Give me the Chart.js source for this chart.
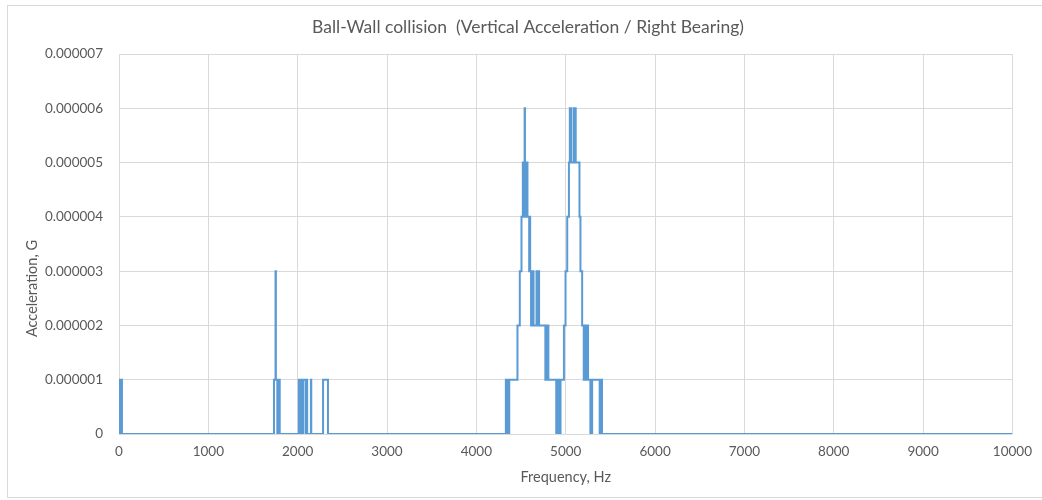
<!DOCTYPE html>
<html>
<head>
<meta charset="utf-8">
<script src="https://cdn.jsdelivr.net/npm/chart.js@4.4.1/dist/chart.umd.min.js"></script>
<style>
    html, body { margin: 0; padding: 0; background: #fff; overflow: hidden; }
    #wrap { position: relative; width: 1042px; height: 500px; overflow: hidden; }
    #frame { position: absolute; left: 7px; top: 5px; width: 1060px; height: 491px; border: 1px solid #d9d9d9; pointer-events: none; }
</style>
</head>
<body>
<div id="wrap">
    <canvas id="collisionChart" width="1042" height="500"></canvas>
    <div id="frame"></div>
</div>
<script>
// frequency (Hz) where the level changes, and the level (G) from that frequency on
const freqHz = [
    0, 11, 33,
    1735, 1752, 1756, 1772, 1778, 1786, 1792, 1799,
    2013, 2020, 2025, 2032, 2037, 2044, 2049, 2056, 2060, 2088, 2092, 2106,
    2148, 2152, 2284, 2339,
    4330, 4336, 4342, 4350, 4356, 4362, 4368, 4460, 4486, 4505,
    4520, 4526, 4530, 4540, 4544, 4550, 4554, 4560, 4564, 4572,
    4591, 4596, 4602, 4612, 4620, 4626, 4634, 4640, 4673, 4677, 4698, 4702,
    4772, 4778, 4786, 4794, 4806,
    4894, 4900, 4908, 4914, 4922, 4930, 4938, 4942,
    4980, 4998, 5017, 5036, 5046, 5050, 5058, 5064, 5092, 5098, 5106, 5112,
    5154, 5165, 5184, 5202, 5208, 5214, 5224, 5232, 5244, 5250,
    5276, 5284, 5290, 5296, 5380, 5388, 5394, 5400, 5406,
    10000
];
const accelG = [
    0, 1e-6, 0,
    1e-6, 3e-6, 1e-6, 0, 1e-6, 0, 1e-6, 0,
    1e-6, 0, 1e-6, 0, 1e-6, 0, 1e-6, 0, 1e-6, 0, 1e-6, 0,
    1e-6, 0, 1e-6, 0,
    1e-6, 0, 1e-6, 0, 1e-6, 0, 1e-6, 2e-6, 3e-6, 4e-6,
    5e-6, 4e-6, 5e-6, 6e-6, 5e-6, 4e-6, 5e-6, 4e-6, 5e-6, 4e-6,
    3e-6, 4e-6, 3e-6, 2e-6, 3e-6, 2e-6, 3e-6, 2e-6, 3e-6, 2e-6, 3e-6, 2e-6,
    1e-6, 2e-6, 1e-6, 2e-6, 1e-6,
    0, 1e-6, 0, 1e-6, 0, 1e-6, 0, 1e-6,
    2e-6, 3e-6, 4e-6, 5e-6, 6e-6, 5e-6, 6e-6, 5e-6, 6e-6, 5e-6, 6e-6, 5e-6,
    4e-6, 3e-6, 2e-6, 1e-6, 2e-6, 1e-6, 2e-6, 1e-6, 2e-6, 1e-6,
    0, 1e-6, 0, 1e-6, 0, 1e-6, 0, 1e-6, 0,
    0
];

const xTicks = [0, 1000, 2000, 3000, 4000, 5000, 6000, 7000, 8000, 9000, 10000];
const yTicks = [0, 0.000001, 0.000002, 0.000003, 0.000004, 0.000005, 0.000006, 0.000007];

const chartTitle = 'Ball-Wall collision  (Vertical Acceleration / Right Bearing)';
const xTitle = 'Frequency, Hz';
const yTitle = 'Acceleration, G';

Chart.defaults.font.family = 'Lato, "Open Sans", sans-serif';
Chart.defaults.color = '#595959';

const points = freqHz.map((f, i) => ({ x: f, y: accelG[i] }));
const gridColor = '#d9d9d9';

new Chart(document.getElementById('collisionChart').getContext('2d'), {
    type: 'line',
    data: {
        datasets: [{
            label: yTitle,
            data: points,
            borderColor: '#5b9bd5',
            borderWidth: 2,
            pointRadius: 0,
            stepped: true,
            fill: false
        }]
    },
    options: {
        responsive: false,
        animation: false,
        layout: { padding: { left: 38, right: 24, top: 0, bottom: 0 } },
        plugins: {
            legend: { display: false },
            tooltip: { enabled: false },
            title: {
                display: true,
                text: chartTitle,
                color: '#595959',
                font: { size: 17.5, weight: 'normal' },
                padding: { top: 17, bottom: 16 }
            }
        },
        scales: {
            x: {
                type: 'linear',
                min: 0,
                max: 10000,
                afterBuildTicks: s => { s.ticks = xTicks.map(v => ({ value: v })); },
                ticks: {
                    font: { size: 13.5 },
                    padding: 10,
                    maxRotation: 0,
                    callback: v => String(v)
                },
                grid: { color: gridColor, drawTicks: false },
                border: { display: false },
                title: {
                    display: true,
                    text: xTitle,
                    font: { size: 14.5 },
                    padding: { top: 0, bottom: 14 }
                },
                afterFit: s => { s.height = 66; }
            },
            y: {
                min: 0,
                max: 0.000007,
                afterBuildTicks: s => { s.ticks = yTicks.map(v => ({ value: v })); },
                ticks: {
                    font: { size: 13.5 },
                    padding: 16,
                    callback: v => String(Number(v.toFixed(6)))
                },
                grid: { color: gridColor, drawTicks: false },
                border: { display: false },
                title: {
                    display: true,
                    // trailing spaces push the visible words below the axis middle, as in the original
                    text: yTitle + '\u00a0'.repeat(24),
                    font: { size: 14.5 },
                    padding: { top: -14, bottom: 0 }
                },
                afterFit: s => { s.width = 81; }
            }
        }
    }
});
</script>
</body>
</html>
